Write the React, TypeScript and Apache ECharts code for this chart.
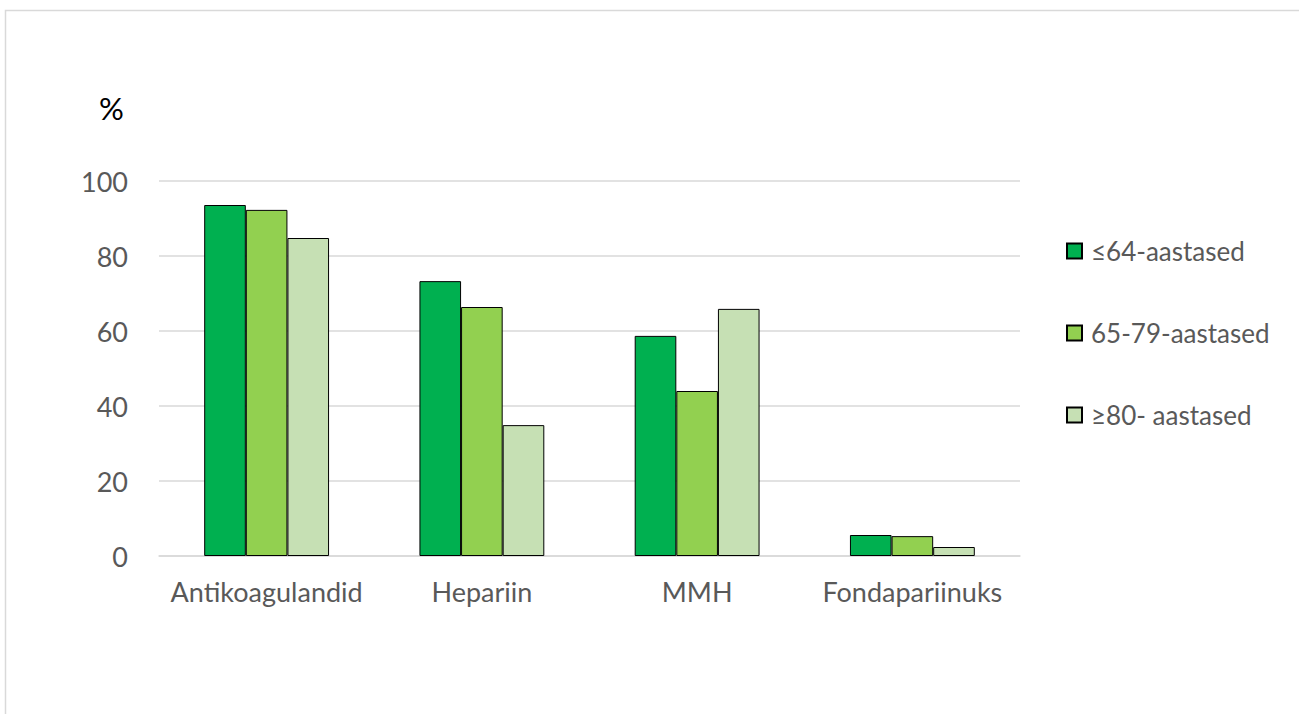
import React, { useEffect, useRef } from "react";
import * as echarts from "echarts";

const categories = ["Antikoagulandid", "Hepariin", "MMH", "Fondapariinuks"];
const seriesNames = ["≤64-aastased", "65-79-aastased", "≥80- aastased"];
const young = [93.6, 73.3, 58.7, 5.6];
const middle = [92.3, 66.4, 44.0, 5.3];
const old = [84.8, 34.9, 65.9, 2.4];
const colors = ["#00B050", "#92D050", "#C6E0B4"];
const yTicks = { min: 0, max: 100, interval: 20 };

const FONT = "Lato, 'Open Sans', sans-serif";

export default function App() {
  const ref = useRef<HTMLDivElement>(null);
  useEffect(() => {
    if (!ref.current) return;
    const chart = echarts.init(ref.current, null, { renderer: "svg" });
    const values = [young, middle, old];
    chart.setOption({
      animation: false,
      backgroundColor: "#ffffff",
      textStyle: { fontFamily: FONT },
      graphic: [
        {
          type: "rect",
          shape: { x: 5.5, y: 10.5, width: 1400, height: 900 },
          style: { fill: "none", stroke: "#d9d9d9", lineWidth: 1.5 },
          silent: true,
        },
        {
          type: "text",
          left: 99,
          top: 92,
          style: { text: "%", fontSize: 31, fill: "#000000", fontFamily: FONT },
        },
      ],
      legend: {
        orient: "vertical",
        left: 1061,
        top: 233,
        itemWidth: 15,
        itemHeight: 15,
        itemGap: 56,
        icon: "rect",
        textStyle: { fontSize: 26, color: "#595959", fontFamily: FONT, padding: [0, 0, 0, 4] },
        data: seriesNames,
      },
      grid: { left: 159, right: 279, top: 181, bottom: 158, containLabel: false },
      xAxis: {
        type: "category",
        data: categories,
        axisLine: { show: true, lineStyle: { color: "#d9d9d9", width: 1.5 } },
        axisTick: { show: false },
        axisLabel: { fontSize: 27, color: "#595959", margin: 22, fontFamily: FONT, interval: 0 },
      },
      yAxis: {
        type: "value",
        min: yTicks.min,
        max: yTicks.max,
        interval: yTicks.interval,
        axisLine: { show: false },
        axisTick: { show: false },
        splitLine: { lineStyle: { color: "#d9d9d9", width: 1.5 } },
        axisLabel: { fontSize: 27, color: "#595959", margin: 31, fontFamily: FONT },
      },
      series: seriesNames.map((name, i) => ({
        name,
        type: "bar",
        data: values[i],
        barGap: "0%",
        barCategoryGap: "42%",
        itemStyle: { color: colors[i], borderColor: "#000000", borderWidth: 1 },
      })),
    });
    return () => chart.dispose();
  }, []);
  return <div ref={ref} style={{ width: 1299, height: 714, position: "absolute", left: 0, top: 0 }} />;
}
